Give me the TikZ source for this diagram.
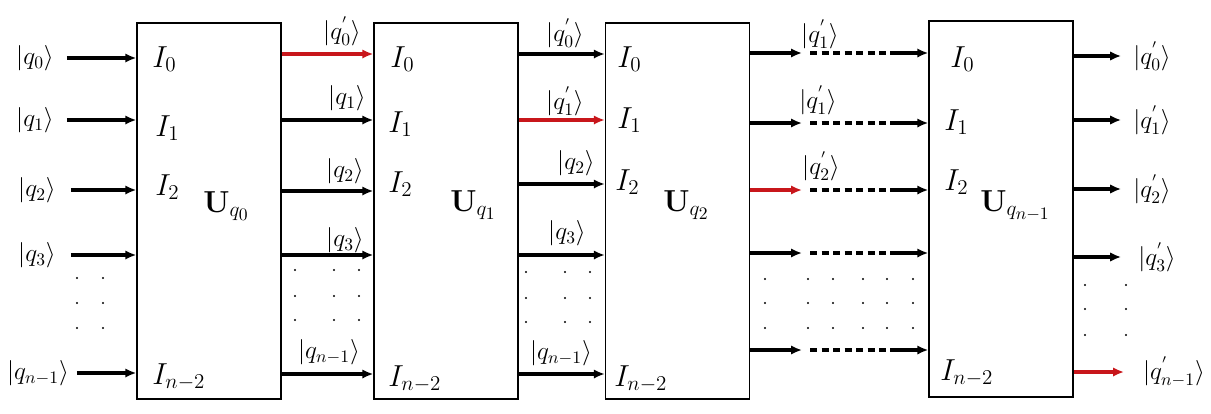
\documentclass[tikz,border=0pt]{standalone}
\usepackage{tikz}
\usetikzlibrary{arrows.meta,calc}
\definecolor{qred}{HTML}{C8161B}

\begin{document}
\begin{tikzpicture}[
  x=0.2mm, y=-0.2mm,
  ubox/.style={draw, line width=0.8pt, minimum width=28.8mm, minimum height=75.2mm, inner sep=0pt},
  port/.style={font=\LARGE, inner sep=0pt, anchor=west},
  ket/.style={font=\Large, inner sep=1pt},
  wire/.style={-{Latex[length=2.2mm,width=1.9mm]}, line width=1.9pt},
  hot/.style={wire, draw=qred},
  gapdash/.style={line width=1.9pt, dash pattern=on 1.4mm off 0.9mm},
  dot/.style={fill=black},
  ]
  \useasboundingbox (0,0) rectangle (1211,413);

  % The four unitary blocks.
  \node[ubox] (U0) at (209,211) {};
  \node[ubox] (U1) at (446,211) {};
  \node[ubox] (U2) at (677.5,211) {};
  \node[ubox] (U3) at (1001,209) {};

  % Port and block labels inside each box.
  \node[port] (U0i0) at (152,59)  {$I_0$};
  \node[port] (U0i1) at (155,128) {$I_1$};
  \node[port] (U0i2) at (155,187) {$I_2$};
  \node[port] (U0in) at (152,377) {$I_{n-2}$};
  \node[port] (U0l)  at (203,206) {$\mathbf{U}_{q_0}$};

  \node[port] (U1i0) at (390,59)  {$I_0$};
  \node[port] (U1i1) at (388,124) {$I_1$};
  \node[port] (U1i2) at (388,184) {$I_2$};
  \node[port] (U1in) at (388,379) {$I_{n-2}$};
  \node[port] (U1l)  at (450,205) {$\mathbf{U}_{q_1}$};

  \node[port] (U2i0) at (617,59)  {$I_0$};
  \node[port] (U2i1) at (617,120) {$I_1$};
  \node[port] (U2i2) at (615,182) {$I_2$};
  \node[port] (U2in) at (614,379) {$I_{n-2}$};
  \node[port] (U2l)  at (663,205) {$\mathbf{U}_{q_2}$};

  \node[port] (U3i0) at (950,59)  {$I_0$};
  \node[port] (U3i1) at (944,122) {$I_1$};
  \node[port] (U3i2) at (944,182) {$I_2$};
  \node[port] (U3in) at (940,373) {$I_{n-2}$};
  \node[port] (U3l)  at (980,206) {$\mathbf{U}_{q_{n-1}}$};

  % Inputs on the left.
  \node[ket] (in0) at (35,58)  {$|q_0\rangle$};
  \node[ket] (in1) at (35,120) {$|q_1\rangle$};
  \node[ket] (in2) at (37,190) {$|q_2\rangle$};
  \node[ket] (in3) at (37,255) {$|q_3\rangle$};
  \node[ket] (inn) at (38,373) {$|q_{n-1}\rangle$};
  \foreach \k/\s in {in0/2.2mm, in1/2.2mm, in2/2.6mm, in3/2.6mm, inn/1.2mm}
    \draw[wire, shorten <=\s] (\k.east) -- (\k -| U0.west);

  % Between U0 and U1.
  \draw[hot] (U0.east |- 0,54) -- (U1.west |- 0,54);
  \foreach \y in {120,191,255,374}
    \draw[wire] (U0.east |- 0,\y) -- (U1.west |- 0,\y);
  \node[ket] (a0) at (342,31)  {$|q_0^{'}\rangle$};
  \node[ket] (a1) at (347,98)  {$|q_1\rangle$};
  \node[ket] (a2) at (345,171) {$|q_2\rangle$};
  \node[ket] (a3) at (345,240) {$|q_3\rangle$};
  \node[ket] (an) at (329,352) {$|q_{n-1}\rangle$};

  % Between U1 and U2.
  \draw[hot] (U1.east |- 0,120) -- (U2.west |- 0,120);
  \foreach \y in {54,184,255,374}
    \draw[wire] (U1.east |- 0,\y) -- (U2.west |- 0,\y);
  \node[ket] (b0) at (565,33)  {$|q_0^{'}\rangle$};
  \node[ket] (b1) at (565,101) {$|q_1^{'}\rangle$};
  \node[ket] (b2) at (576,163) {$|q_2\rangle$};
  \node[ket] (b3) at (567,233) {$|q_3\rangle$};
  \node[ket] (bn) at (561,353) {$|q_{n-1}\rangle$};

  % Between U2 and U3: broken lines standing for the skipped blocks.
  \foreach \i/\y in {0/53,1/123,2/190,3/253,4/350} {
    \coordinate (m\i) at (802,\y);
    \coordinate (r\i) at (890,\y);
    \draw[gapdash, shorten <=1.6mm] (m\i) -- (r\i);
    \draw[wire] (r\i) -- (r\i -| U3.west);
  }
  \foreach \i in {0,1,3,4}
    \draw[wire] (m\i -| U2.east) -- (m\i);
  \draw[hot] (m2 -| U2.east) -- (m2);
  \node[ket] (c0) at (820,34)  {$|q_1^{'}\rangle$};
  \node[ket] (c1) at (818,100) {$|q_1^{'}\rangle$};
  \node[ket] (c2) at (821,166) {$|q_2^{'}\rangle$};

  % Outputs on the right.
  \node[ket] (out0) at (1152,56)  {$|q_0^{'}\rangle$};
  \node[ket] (out1) at (1152,120) {$|q_1^{'}\rangle$};
  \node[ket] (out2) at (1152,189) {$|q_2^{'}\rangle$};
  \node[ket] (out3) at (1157,257) {$|q_3^{'}\rangle$};
  \node[ket] (outn) at (1174,372) {$|q_{n-1}^{'}\rangle$};
  \foreach \k/\s in {out0/2mm, out1/2mm, out2/2mm, out3/3mm}
    \draw[wire, shorten >=\s] (\k -| U3.east) -- (\k.west);
  \draw[hot, shorten >=3.4mm] (outn -| U3.east) -- (outn.west);

  % Vertical ellipses.
  \foreach \x in {77,103}
    \foreach \y in {278,303,328}
      \fill[dot] (\x,\y) circle (0.22mm);
  \foreach \x in {295,334,359}
    \foreach \y in {270,296,320}
      \fill[dot] (\x,\y) circle (0.22mm);
  \foreach \x in {526,565,590}
    \foreach \y in {272,298,322}
      \fill[dot] (\x,\y) circle (0.22mm);
  \foreach \x in {765,808,833,863,887,913}
    \foreach \y in {279,303,328}
      \fill[dot] (\x,\y) circle (0.22mm);
  \foreach \x in {1085,1126}
    \foreach \y in {285,309,335}
      \fill[dot] (\x,\y) circle (0.22mm);
\end{tikzpicture}
\end{document}
